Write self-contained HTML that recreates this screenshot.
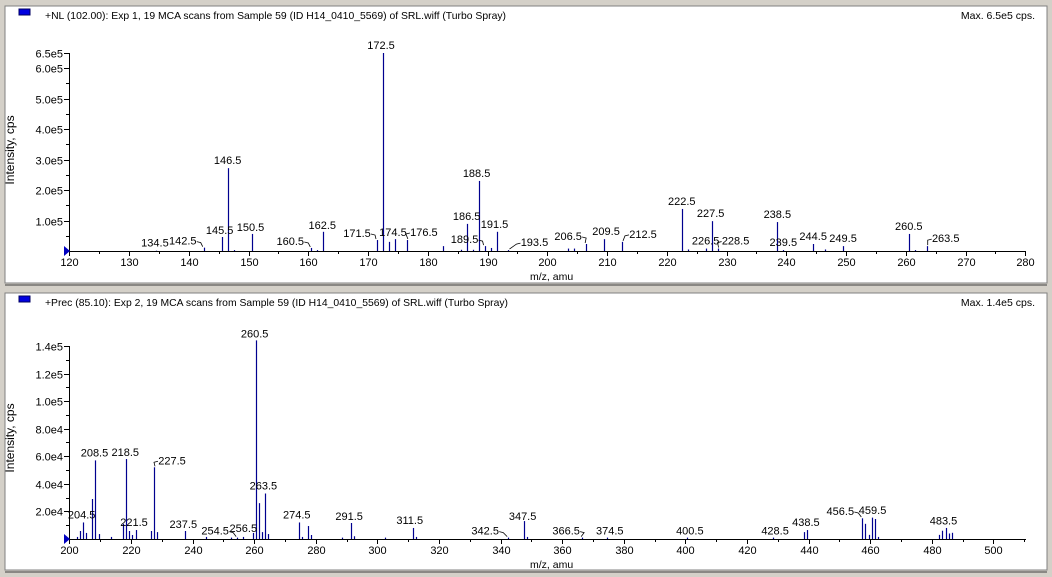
<!DOCTYPE html>
<html><head><meta charset="utf-8">
<style>
html,body{margin:0;padding:0;background:#d4d0c8;}
svg{display:block;font-family:"Liberation Sans",Arial,sans-serif;}
</style></head>
<body>
<svg id="chart" width="1052" height="577" viewBox="0 0 1052 577" xmlns="http://www.w3.org/2000/svg">
<rect x="0" y="0" width="1052" height="577" fill="#d4d0c8"/>
</svg>
<script>
// ---- Top spectrum data ----
const topMz = [134.5,142.5,145.5,146.5,147.5,150.5,160.5,161.5,162.5,171.5,172.5,173.5,174.5,176.5,182.5,185.5,186.5,187.5,188.5,189.5,190.5,191.5,193.5,203.5,204.5,206.5,209.5,212.5,222.5,223.5,226.5,227.5,228.5,238.5,239.5,244.5,246.5,249.5,260.5,261.5,263.5];
const topIntensity = [1000,11000,46000,272000,3000,56000,10000,3000,63000,36000,650000,30000,39000,36000,16000,4000,89000,4000,230000,16000,10000,63000,3000,8000,8000,23000,39000,30000,138000,5000,8000,98000,8000,95000,3000,23000,5000,16000,56000,3000,16000];
const topLabels = ["134.5","142.5","145.5","146.5","150.5","160.5","162.5","171.5","172.5","174.5","176.5","186.5","188.5","189.5","191.5","193.5","206.5","209.5","212.5","222.5","226.5","227.5","228.5","238.5","239.5","244.5","249.5","260.5","263.5"];
const topXTicks = [120,130,140,150,160,170,180,190,200,210,220,230,240,250,260,270,280];
const topYTicks = [100000,200000,300000,400000,500000,600000,650000];
const topYTickLabels = ["1.0e5","2.0e5","3.0e5","4.0e5","5.0e5","6.0e5","6.5e5"];
// label layout offsets (dx, dy, leader)
const topLabelLayout = [[-1,8,0],[-21,7,1],[-2,7,0],[0,8,0],[-1,7,0],[-21,7,1],[-1,7,0],[-20,7,1],[-2,8,0],[-2,7,0],[17,8,2],[0,8,0],[-2,8,0],[-20,7,1],[-2,8,0],[26,8,2],[-18,8,1],[2,8,0],[21,8,2],[0,8,0],[0,8,0],[-1,8,0],[18,8,2],[0,8,0],[0,8,0],[0,8,0],[0,8,0],[0,8,0],[19,8,2]];

// ---- Bottom spectrum data ----
const botMz = [202.5,203.5,204.5,205.5,207.5,208.5,209.5,213.5,217.5,218.5,219.5,220.5,221.5,226.5,227.5,228.5,237.5,244.5,252.5,254.5,256.5,259.5,260.5,261.5,262.5,263.5,264.5,274.5,275.5,277.5,278.5,288.5,291.5,292.5,302.5,311.5,312.5,342.5,347.5,348.5,366.5,374.5,400.5,428.5,438.5,439.5,457.5,458.5,459.5,460.5,461.5,462.5,482.5,483.5,484.5,485.5,486.5];
const botIntensity = [1500,5800,12000,4400,29000,57000,3600,1500,11000,58000,5800,2900,6500,5800,52000,5000,5800,1500,1000,1000,1500,4400,144000,26000,5000,33000,3600,12000,1500,9400,2900,1000,11600,2000,1000,8000,1500,1000,13000,1500,1000,1000,1000,1000,5000,6500,15000,11000,3000,15500,14500,1500,3000,6000,8000,4000,4500];
const botLabels = ["204.5","208.5","218.5","221.5","227.5","237.5","254.5","256.5","260.5","263.5","274.5","291.5","311.5","342.5","347.5","366.5","374.5","400.5","428.5","438.5","456.5","459.5","483.5"];
const botXTicks = [200,220,240,260,280,300,320,340,360,380,400,420,440,460,480,500];
const botYTicks = [20000,40000,60000,80000,100000,120000,140000];
const botYTickLabels = ["2.0e4","4.0e4","6.0e4","8.0e4","1.0e5","1.2e5","1.4e5"];
const botLabelLayout = [[-1.5,8,0],[-1,8,0],[-1,7,0],[-1.5,8,0],[18,7,2],[-1.5,7,0],[-22,7,1],[0,9,0],[-1,7,0],[-1.5,8,0],[-2,8,0],[-2,7,0],[-3,8,0],[-23,7,1],[-1,5,0],[-16,7,1],[3,7,0],[3,7,0],[2,7,0],[2,10,0],[-19,28,3],[4,25,0],[1,10,0]];

const NS = "http://www.w3.org/2000/svg";
const svg = document.getElementById('chart');
function el(tag, attrs, parent){
  const e = document.createElementNS(NS, tag);
  for (const k in attrs) e.setAttribute(k, attrs[k]);
  (parent||svg).appendChild(e);
  return e;
}
const BLUE = "#00008f";

function panel(cfg){
  const g = el('g', {});
  
  
  const fr = el('rect', {x:5, y:cfg.py, width:1042, height:cfg.ph, fill:'#fff', stroke:'#808080', 'stroke-width':1}, g);
  
  
  el('line', {x1:5, y1:cfg.py+cfg.ph+2, x2:1047, y2:cfg.py+cfg.ph+2, stroke:'#404040'}, g);
  const sq = el('rect', {x:19, y:cfg.py+3, width:11, height:6, fill:'#0000e0', stroke:'#000060'}, g);
  
  
  const t = el('text', {x:45, y:cfg.py+13, 'font-size':10.5, fill:'#000', textLength:cfg.titleLen, lengthAdjust:'spacingAndGlyphs'}, g);
  t.textContent = cfg.title;
  
  
  const mx = el('text', {x:1035, y:cfg.py+13, 'font-size':10.5, 'text-anchor':'end'}, g);
  mx.textContent = cfg.maxText;
  
  

  const X = m => cfg.x0 + (m - cfg.xmin) * cfg.xs;
  const Y = v => cfg.base - v * cfg.ys;
  const ya = el('line', {x1:69.5, y1:Y(cfg.ytop), x2:69.5, y2:cfg.base, stroke:'#000'}, g);
  
  
  const xa = el('line', {x1:69, y1:cfg.base+0.5, x2:1026, y2:cfg.base+0.5, stroke:'#000'}, g);
  
  
  for (let m = cfg.xmin; m <= cfg.xmaxTick; m += cfg.minor){
    const xx = Math.round(X(m))+0.5;
    el('line', {x1:xx, y1:cfg.base, x2:xx, y2:cfg.base+3, stroke:'#000'}, g);
  }
  cfg.xt.forEach(m => {
    const xx = Math.round(X(m))+0.5;
    el('line', {x1:xx, y1:cfg.base, x2:xx, y2:cfg.base+5, stroke:'#000'}, g);
    const tl = el('text', {x:xx, y:cfg.base+15, 'font-size':11, 'text-anchor':'middle'}, g);
    tl.textContent = String(m);
    
    
  });
  for (let v = cfg.yminor; v <= cfg.ytop; v += cfg.yminor){
    const yy = Math.round(Y(v))+0.5;
    el('line', {x1:66, y1:yy, x2:69, y2:yy, stroke:'#000'}, g);
  }
  cfg.yt.forEach((v,i) => {
    const yy = Math.round(Y(v))+0.5;
    el('line', {x1:64, y1:yy, x2:69, y2:yy, stroke:'#000'}, g);
    const tl = el('text', {x:63, y:yy+4, 'font-size':11, 'text-anchor':'end'}, g);
    tl.textContent = cfg.ytl[i];
    
    
  });
  const tri = el('polygon', {points:`64,${cfg.base-5} 70,${cfg.base} 64,${cfg.base+5}`, fill:'#0000c0'}, g);
  
  
  const xt = el('text', {x:530, y:cfg.base+29, 'font-size':10.5}, g);
  xt.textContent = 'm/z, amu';
  
  
  const cy = cfg.base - 101;
  const yt = el('text', {x:14, y:cy, 'font-size':12, 'text-anchor':'middle', transform:`rotate(-90 14 ${cy})`}, g);
  yt.textContent = 'Intensity, cps';
  
  
  cfg.mz.forEach((m,i) => {
    const xx = Math.round(X(m))+0.5;
    const b = el('line', {x1:xx, y1:cfg.base, x2:xx, y2:Y(cfg.vals[i]), stroke:BLUE, 'stroke-width':1.2}, g);
    
    
  });
  cfg.labels.forEach((lab,i) => {
    const m = parseFloat(lab);
    const idx = cfg.mz.indexOf(m);
    const v = idx >= 0 ? cfg.vals[idx] : 0;
    const [dx,dy,ld] = cfg.layout[i];
    const px = X(m), py = Y(v);
    const lx = px + dx, ly = py - dy;
    const tx = el('text', {x:lx, y:ly+4, 'font-size':11, 'text-anchor':'middle'}, g);
    tx.textContent = lab;
    
    
    if (ld === 1){
      el('polyline', {points:`${lx+14},${ly+1} ${lx+18},${ly+2} ${px-1},${py-1}`, fill:'none', stroke:'#000', 'stroke-width':0.8}, g);
    } else if (ld === 2){
      el('polyline', {points:`${px+1},${py-1} ${lx-18},${ly+2} ${lx-14},${ly+1}`, fill:'none', stroke:'#000', 'stroke-width':0.8}, g);
    } else if (ld === 3){
      el('polyline', {points:`${lx+14},${ly+1} ${lx+18},${ly+2} ${lx+21},${ly+6}`, fill:'none', stroke:'#000', 'stroke-width':0.8}, g);
    }
  });
}

panel({name:'top-spectrum-panel', py:6, ph:277,
  title:'+NL (102.00): Exp 1, 19 MCA scans from Sample 59 (ID H14_0410_5569) of SRL.wiff (Turbo Spray)', titleLen:461,
  maxText:'Max. 6.5e5 cps.',
  x0:69.3, xmin:120, xs:5.975, xmaxTick:280, minor:5, base:251, ys:30.46e-5, ytop:650000, yminor:50000,
  xt:topXTicks, yt:topYTicks, ytl:topYTickLabels, mz:topMz, vals:topIntensity, labels:topLabels, layout:topLabelLayout});

panel({name:'bottom-spectrum-panel', py:293, ph:277,
  title:'+Prec (85.10): Exp 2, 19 MCA scans from Sample 59 (ID H14_0410_5569) of SRL.wiff (Turbo Spray)', titleLen:463,
  maxText:'Max. 1.4e5 cps.',
  x0:69.3, xmin:200, xs:3.08, xmaxTick:510, minor:10, base:539, ys:0.001379, ytop:140000, yminor:10000,
  xt:botXTicks, yt:botYTicks, ytl:botYTickLabels, mz:botMz, vals:botIntensity, labels:botLabels, layout:botLabelLayout});
</script>
</body></html>
